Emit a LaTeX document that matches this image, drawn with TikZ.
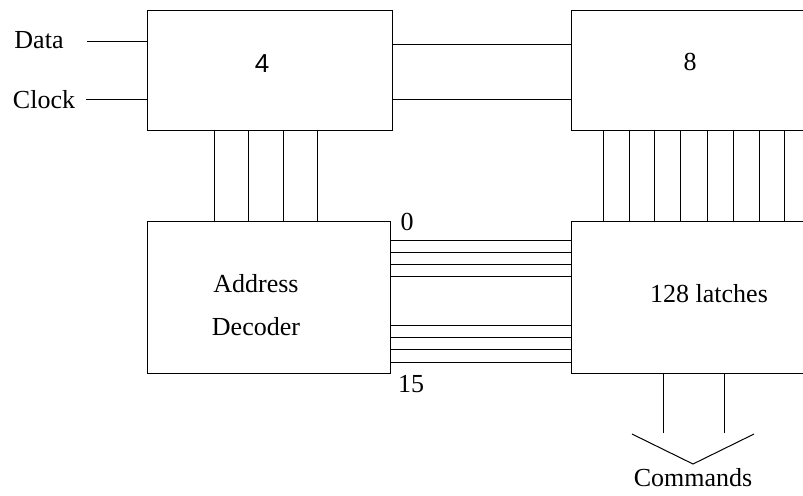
\documentclass[tikz,border=0pt]{standalone}
\usepackage{fontspec}
\setmainfont{Liberation Serif}
\newfontfamily\digitsans{Liberation Sans}
\usetikzlibrary{calc}
\tikzset{
  every picture/.style={x=0.5pt, y=-0.5pt, line width=0.5pt},
  every node/.style={font=\fontsize{13}{15}\selectfont},
  block/.style={draw, inner sep=0pt, minimum width=#1},
  upper/.style={minimum height=60pt},
  lower/.style={minimum height=76pt},
  label/.style={inner sep=0pt},
}

\begin{document}
\begin{tikzpicture}
  \path[use as bounding box, clip] (0,0) rectangle (803,495);
  \node[block=122.5pt, upper] (box4) at (269.5,70) {};
  \node[block=138pt, upper] (box8) at (709,70) {};
  \node[block=121.5pt, lower] (decoder) at (268.5,297) {};
  \node[block=138pt, lower] (latches) at (709,297) {};
  \node[label, font=\digitsans\fontsize{13}{15}\selectfont] (n4) at (262,64) {4};
  \node[label] (n8) at (690,62) {8};
  \node[label] (addr) at (256,284) {Address};
  \node[label] (dec) at (256,327) {Decoder};
  \node[label] (lat) at (709,294) {128 latches};
  \node[label] (data) at (39,40) {Data};
  \node[label] (clock) at (44,100) {Clock};
  \node[label] (first) at (407,222) {0};
  \node[label] (last) at (411,384) {15};
  \node[label] (cmd) at (693,478) {Commands};
  \coordinate (din) at (87,41);
  \coordinate (cin) at (86,99);
  \draw (din) -- (din -| box4.west);
  \draw (cin) -- (cin -| box4.west);
  \foreach \y in {44,99}
    \draw (box4.east |- 0,\y) -- (box8.west |- 0,\y);
  \foreach \x in {214,248,283,317}
    \draw (\x,0 |- box4.south) -- (\x,0 |- decoder.north);
  \foreach \x in {603,629,654,680,707,733,759,784}
    \draw (\x,0 |- box8.south) -- (\x,0 |- latches.north);
  \foreach \y in {240,252,264,276,325,337,349,362}
    \draw (decoder.east |- 0,\y) -- (latches.west |- 0,\y);
  \foreach \x in {663,724}
    \draw (\x,0 |- latches.south) -- (\x,433);
  \coordinate (tip) at (693,464);
  \draw (632,434) -- (tip) -- (754,434);
\end{tikzpicture}
\end{document}
